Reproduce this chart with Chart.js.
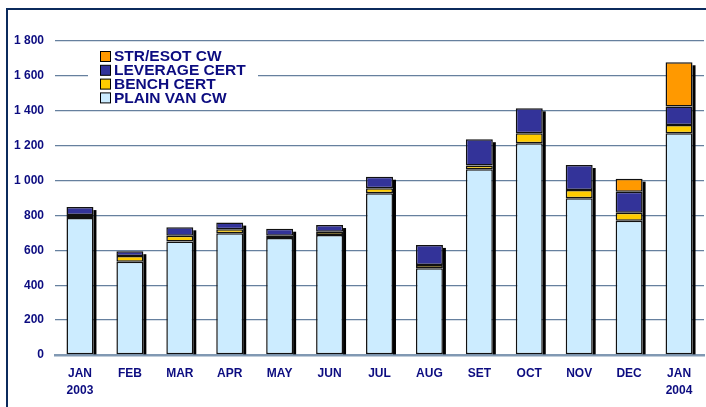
<!DOCTYPE html>
<html>
<head>
<meta charset="utf-8">
<script src="https://cdn.jsdelivr.net/npm/chart.js@4/dist/chart.umd.min.js"></script>
<style>
  html, body { margin: 0; padding: 0; background: #fff; overflow: hidden; }
  #wrap { position: relative; width: 706px; height: 407px; }
  #frame { position: absolute; left: 6px; top: 8px; width: 720px; height: 420px;
           border-left: 2px solid #0b2a5c; border-top: 2px solid #0b2a5c; pointer-events: none; }
  canvas { position: absolute; left: 0; top: 0; }
</style>
</head>
<body>
<div id="wrap">
  <canvas id="chart" width="706" height="407"></canvas>
  <div id="frame"></div>
</div>
<script>
const months = [["JAN", "2003"], "FEB", "MAR", "APR", "MAY", "JUN", "JUL", "AUG", "SET", "OCT", "NOV", "DEC", ["JAN", "2004"]];

const plainVanCw = [785, 535, 650, 698, 670, 688, 927, 497, 1065, 1214, 898, 770, 1271];
const benchCert = [18, 33, 34, 23, 14, 19, 29, 19, 21, 57, 48, 46, 48];
const leverageCert = [45, 27, 48, 38, 40, 38, 66, 115, 151, 143, 143, 120, 105];
const strEsotCw = [0, 0, 0, 0, 0, 0, 0, 0, 0, 0, 0, 75, 254];

const navy = '#0c0c80';
const fontFamily = '"Liberation Sans", Arial, sans-serif';

function fmt(v) {
  return String(v).replace(/\B(?=(\d{3})+(?!\d))/g, ' ');
}

// black drop shadow on the right of each stack, taken from the bar elements
const barShadow = {
  id: 'barShadow',
  beforeDatasetsDraw(chart) {
    const ctx = chart.ctx;
    const metas = chart.getSortedVisibleDatasetMetas();
    if (!metas.length) return;
    ctx.save();
    ctx.fillStyle = '#000';
    metas[0].data.forEach((bar0, i) => {
      let top = bar0.y;
      metas.forEach(m => {
        const b = m.data[i];
        if (b && Math.abs(b.base - b.y) > 0.5) top = Math.min(top, b.y);
      });
      const right = bar0.x + bar0.width / 2;
      ctx.fillRect(right, top + 3, 3, bar0.base - top - 3);
    });
    ctx.restore();
  }
};

// legend box in the top left of the plot
const boxLegend = {
  id: 'boxLegend',
  afterDraw(chart) {
    const ctx = chart.ctx;
    const area = chart.chartArea;
    const x0 = area.left + 33;
    const y0 = area.top + 5;
    ctx.save();
    ctx.fillStyle = '#fff';
    ctx.fillRect(x0, y0, 170, 61);
    const items = chart.data.datasets.slice().reverse();
    ctx.font = 'bold 15.5px ' + fontFamily;
    ctx.textBaseline = 'middle';
    items.forEach((ds, i) => {
      const cy = y0 + 10 + i * 13.8;
      ctx.fillStyle = ds.backgroundColor;
      ctx.fillRect(x0 + 12.5, cy - 4.5, 10, 10);
      ctx.strokeStyle = '#000';
      ctx.lineWidth = 1;
      ctx.strokeRect(x0 + 12.5, cy - 4.5, 10, 10);
      ctx.fillStyle = navy;
      ctx.fillText(ds.label, x0 + 26, cy + 1);
    });
    ctx.restore();
  }
};

function makeSet(label, data, color) {
  return {
    label: label,
    data: data,
    backgroundColor: color,
    borderColor: '#111',
    borderWidth: 1.5,
    borderSkipped: false,
    categoryPercentage: 1,
    barPercentage: 0.54
  };
}

const data = {
  labels: months,
  datasets: [
    makeSet('PLAIN VAN CW', plainVanCw, '#ccecff'),
    makeSet('BENCH CERT', benchCert, '#ffcc00'),
    makeSet('LEVERAGE CERT', leverageCert, '#333399'),
    makeSet('STR/ESOT CW', strEsotCw, '#ff9900')
  ]
};

const config = {
  type: 'bar',
  data: data,
  options: {
    responsive: false,
    animation: false,
    devicePixelRatio: 1,
    layout: { padding: { top: 41, right: 2, left: 0, bottom: 0 } },
    plugins: {
      legend: { display: false },
      tooltip: { enabled: false }
    },
    scales: {
      x: {
        stacked: true,
        grid: { display: false, drawTicks: false },
        border: { display: true, color: '#8199b3', width: 2.5 },
        ticks: {
          color: navy,
          padding: 11,
          maxRotation: 0,
          autoSkip: false,
          font: { family: fontFamily, weight: 'bold', size: 12, lineHeight: 1.35 }
        },
        afterFit(scale) { scale.height = 52; }
      },
      y: {
        stacked: true,
        min: 0,
        max: 1800,
        grid: {
          drawTicks: false,
          color: ctx => ctx.tick && ctx.tick.value === 0 ? 'rgba(0,0,0,0)' : '#66809e',
          lineWidth: 1.3
        },
        border: { display: false },
        ticks: {
          stepSize: 200,
          color: navy,
          padding: 11,
          font: { family: fontFamily, weight: 'bold', size: 12 },
          callback: v => fmt(v)
        },
        afterFit(scale) { scale.width = 55; }
      }
    }
  },
  plugins: [barShadow, boxLegend]
};

const myChart = new Chart(document.getElementById('chart'), config);
</script>
</body>
</html>
